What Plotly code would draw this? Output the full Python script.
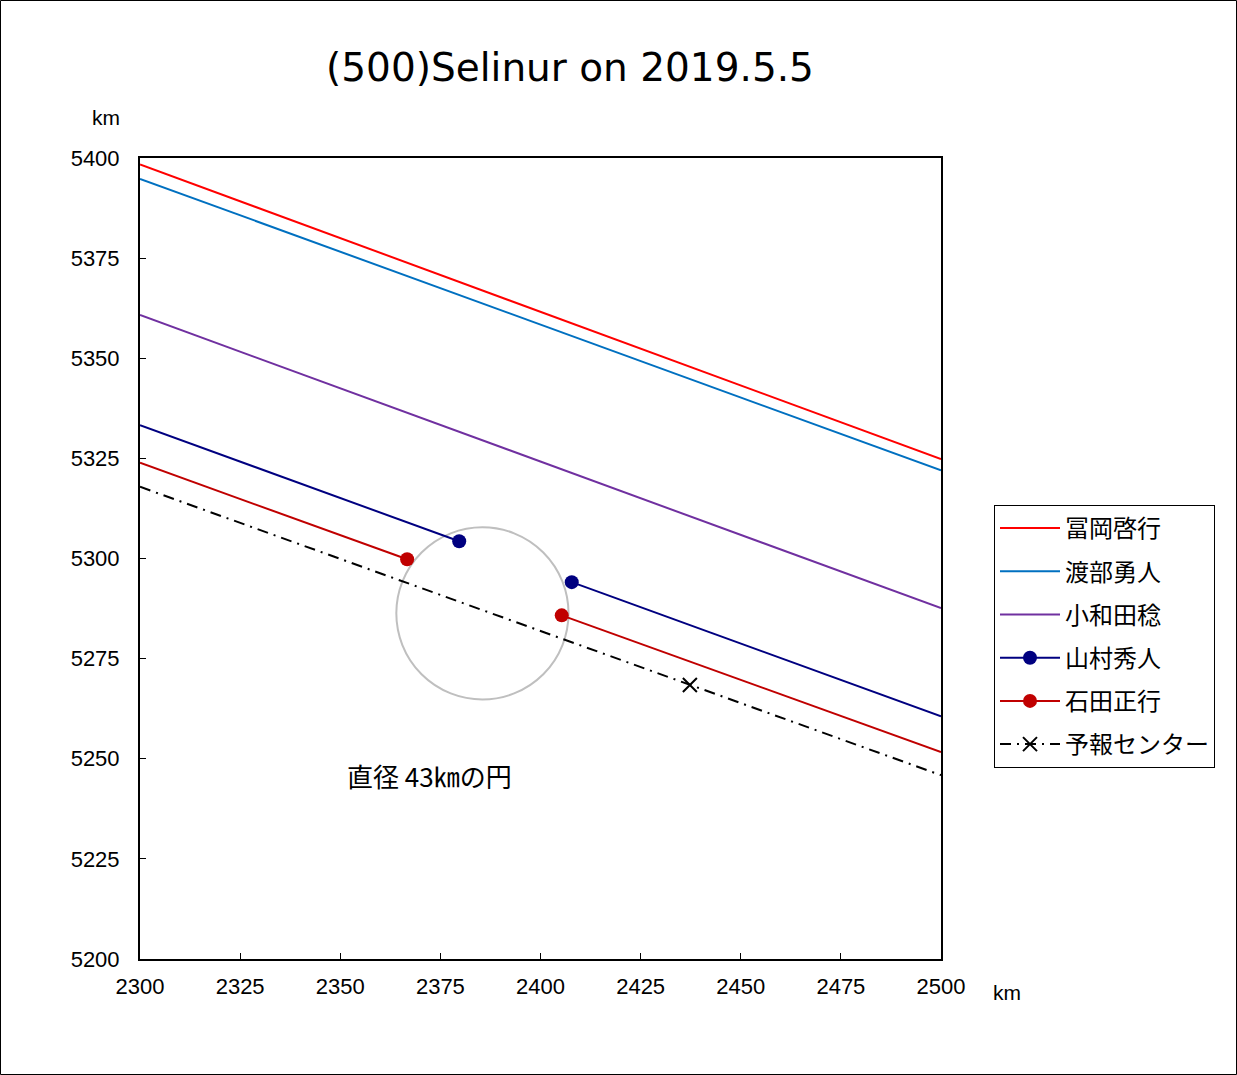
import plotly.graph_objects as go

# ---- data ----
x_edges = [2300, 2500]
tomioka_y = [5398.4, 5324.8]
watabe_y = [5394.8, 5322.0]
owada_y = [5360.8, 5287.6]

yamamura_x = [2300, 2379.7, None, 2407.8, 2500]
yamamura_y = [5333.3, 5304.3, None, 5294.1, 5260.6]
yamamura_mx = [2379.7, None, 2407.8]
yamamura_my = [5304.3, None, 5294.1]

ishida_x = [2300, 2366.7, None, 2405.3, 2500]
ishida_y = [5323.9, 5299.8, None, 5285.8, 5251.7]
ishida_mx = [2366.7, None, 2405.3]
ishida_my = [5299.8, None, 5285.8]

center_x = [2300, 2500]
center_y = [5317.9, 5245.9]
center_mx = [2437.3]
center_my = [5268.4]

circle_cx, circle_cy, circle_d = 2385.5, 5286.3, 43.0

x_ticks = [2300, 2325, 2350, 2375, 2400, 2425, 2450, 2475, 2500]
y_ticks = [5200, 5225, 5250, 5275, 5300, 5325, 5350, 5375, 5400]

names = ["冨岡啓行", "渡部勇人", "小和田稔", "山村秀人", "石田正行", "予報センター"]
colors = ["#FF0000", "#0070C0", "#7030A0", "#000080", "#C00000", "#000000"]

W, H = 1237, 1075
L, R, T, B = 140, 296, 158, 116
pw, ph = W - L - R, H - T - B

CJK = "Noto Sans CJK JP, sans-serif"
NUM = "Liberation Sans, Arial, sans-serif"

fig = go.Figure()

# simple lines
for nm, ys, col in zip(names[:3], [tomioka_y, watabe_y, owada_y], colors[:3]):
    fig.add_trace(go.Scatter(x=x_edges, y=ys, mode="lines", name=nm,
                             line=dict(color=col, width=2), legendgroup=nm))

# segmented lines with markers
for nm, lx, ly, mx, my, col in [
    (names[3], yamamura_x, yamamura_y, yamamura_mx, yamamura_my, colors[3]),
    (names[4], ishida_x, ishida_y, ishida_mx, ishida_my, colors[4]),
]:
    fig.add_trace(go.Scatter(x=lx, y=ly, mode="lines", showlegend=False,
                             line=dict(color=col, width=2), legendgroup=nm,
                             connectgaps=False, hoverinfo="skip"))
    fig.add_trace(go.Scatter(x=mx, y=my, mode="lines+markers", name=nm,
                             line=dict(color=col, width=2), legendgroup=nm,
                             connectgaps=False,
                             marker=dict(color=col, size=14, symbol="circle")))

# forecast center line
DASH = "11px,6px,2px,6px"
fig.add_trace(go.Scatter(x=center_x, y=center_y, mode="lines", showlegend=False,
                         line=dict(color="#000000", width=2, dash=DASH),
                         legendgroup=names[5], hoverinfo="skip"))
fig.add_trace(go.Scatter(x=center_mx, y=center_my, mode="lines+markers", name=names[5],
                         line=dict(color="#000000", width=2, dash=DASH),
                         legendgroup=names[5],
                         marker=dict(symbol="x-thin", size=14, color="#000000",
                                     line=dict(color="#000000", width=2))))

# circle of 43 km diameter
r = circle_d / 2
fig.add_shape(type="circle", xref="x", yref="y",
              x0=circle_cx - r, x1=circle_cx + r, y0=circle_cy - r, y1=circle_cy + r,
              line=dict(color="#BFBFBF", width=2), layer="below")

fig.add_annotation(x=2372.3, y=5245.7, xref="x", yref="y", text="直径 43㎞の円",
                   showarrow=False, font=dict(family=CJK, size=26, color="#000000"))

# km labels
for px, py in [(106, 117), (1007, 992)]:
    fig.add_annotation(x=(px - L) / pw, y=(H - B - py) / ph, xref="paper", yref="paper",
                       xanchor="center", yanchor="middle",
                       text="km", showarrow=False,
                       font=dict(family=NUM, size=21, color="#000"))

# outer border
fig.add_shape(type="rect", xref="paper", yref="paper",
              x0=(0.5 - L) / pw, x1=(W - 0.5 - L) / pw,
              y0=(H - B - (H - 0.5)) / ph, y1=(H - B - 0.5) / ph,
              line=dict(color="#000000", width=1))

axis_common = dict(showgrid=False, zeroline=False, showline=True, linecolor="#000000",
                   linewidth=2, mirror=True, ticks="inside", ticklen=6, tickwidth=1,
                   tickcolor="#000000",
                   tickfont=dict(family=NUM, size=22, color="#000000"))

fig.update_xaxes(range=[2300, 2500], tickvals=x_ticks, ticktext=[str(v) for v in x_ticks],
                 ticklabelstandoff=7, **axis_common)
fig.update_yaxes(range=[5200, 5400], tickvals=y_ticks, ticktext=[str(v) for v in y_ticks],
                 ticklabelstandoff=14, **axis_common)

fig.update_layout(
    width=W, height=H,
    margin=dict(l=L, r=R, t=T, b=B, autoexpand=False),
    paper_bgcolor="#FFFFFF", plot_bgcolor="#FFFFFF",
    title=dict(text="(500)Selinur on 2019.5.5", xref="container", yref="container",
               x=570 / W, y=1 - 67 / H, xanchor="center", yanchor="middle",
               font=dict(family="DejaVu Sans, sans-serif", size=39, color="#000000")),
    legend=dict(x=(994 - L) / pw, y=(H - B - 505) / ph, xanchor="left", yanchor="top",
                bordercolor="#000000", borderwidth=1, bgcolor="#FFFFFF",
                font=dict(family=CJK, size=24, color="#000000"),
                tracegroupgap=9, itemwidth=60),
    showlegend=True,
)

fig.write_html("out.html")
